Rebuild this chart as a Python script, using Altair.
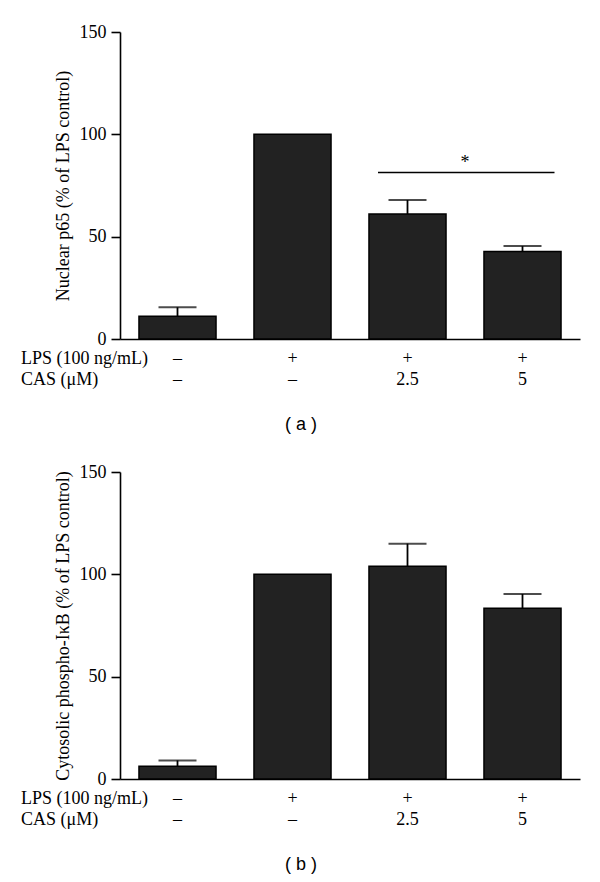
import altair as alt
import pandas as pd

cats = ["g1", "g2", "g3", "g4"]
lps = ["–", "+", "+", "+"]
cas = ["–", "–", "2.5", "5"]
a_mean = [11.1, 100, 61.1, 42.8]
a_err = [4.4, 0, 6.8, 2.6]
b_mean = [6.2, 100, 103.9, 83.4]
b_err = [2.9, 0, 11.1, 7.0]
sig_value = 81.4
yticks = [0, 50, 100, 150]
row_labels = ["LPS (100 ng/mL)", "CAS (μM)"]

W, H = 460, 307
SERIF = "'Liberation Serif', 'Times New Roman', 'DejaVu Serif', serif"
SANS = "'Liberation Sans', Arial, sans-serif"


def panel(means, errs, ytitle, letter, sig=False):
    df = pd.DataFrame({"cat": cats, "mean": means,
                       "top": [m + e for m, e in zip(means, errs)],
                       "lps": lps, "cas": cas})
    df_err = df[[e > 0 for e in errs]]
    x = alt.X("cat:N", sort=cats,
              scale=alt.Scale(paddingInner=0.33, paddingOuter=0.165),
              axis=alt.Axis(title=None, labels=False, ticks=False, domain=True,
                            domainColor="black", domainWidth=1.6))
    y = alt.Y("mean:Q", scale=alt.Scale(domain=[0, 150], nice=False),
              axis=alt.Axis(title=ytitle, values=yticks, grid=False,
                            domainColor="black", domainWidth=1.6,
                            tickColor="black", tickWidth=1.6, tickSize=9,
                            labelFont=SERIF, labelFontSize=18, labelColor="black",
                            labelPadding=5, titleFont=SERIF, titleFontSize=18,
                            titleFontWeight="normal", titleColor="black",
                            titlePadding=7))
    bars = alt.Chart(df).mark_bar(color="#222222", stroke="black",
                                  strokeWidth=1.5).encode(x=x, y=y)
    stems = alt.Chart(df_err).mark_rule(color="black", strokeWidth=1.8).encode(
        x=alt.X("cat:N", sort=cats), y="mean:Q", y2="top:Q")
    caps = alt.Chart(df_err).mark_tick(color="black", size=38, thickness=2,
                                       orient="horizontal").encode(
        x=alt.X("cat:N", sort=cats), y="top:Q")
    lps_t = alt.Chart(df).mark_text(font=SERIF, fontSize=18, color="black",
                                    baseline="middle").encode(
        x=alt.X("cat:N", sort=cats), y=alt.value(H + 20), text="lps:N")
    cas_t = alt.Chart(df).mark_text(font=SERIF, fontSize=18, color="black",
                                    baseline="middle").encode(
        x=alt.X("cat:N", sort=cats), y=alt.value(H + 41), text="cas:N")
    lab1 = alt.Chart(pd.DataFrame({"t": [row_labels[0]]})).mark_text(
        font=SERIF, fontSize=18, color="black", align="left",
        baseline="middle").encode(x=alt.value(-99), y=alt.value(H + 20), text="t:N")
    lab2 = alt.Chart(pd.DataFrame({"t": [row_labels[1]]})).mark_text(
        font=SERIF, fontSize=18, color="black", align="left",
        baseline="middle").encode(x=alt.value(-99), y=alt.value(H + 41), text="t:N")
    letter_t = alt.Chart(pd.DataFrame({"t": [letter]})).mark_text(
        font=SANS, fontSize=18, color="black",
        baseline="middle").encode(x=alt.value(181), y=alt.value(H + 86), text="t:N")
    layers = [bars, stems, caps, lps_t, cas_t, lab1, lab2, letter_t]
    if sig:
        sdf = pd.DataFrame({"a": [cats[2]], "b": [cats[3]], "v": [sig_value],
                            "s": ["*"]})
        line = alt.Chart(sdf).mark_rule(color="black", strokeWidth=1.5,
                                        xOffset=-29.5, x2Offset=32).encode(
            x=alt.X("a:N", sort=cats), x2="b:N", y="v:Q")
        star = alt.Chart(sdf).mark_text(font=SERIF, fontSize=18, color="black",
                                        baseline="middle", dx=57.5, dy=-9).encode(
            x=alt.X("a:N", sort=cats), y="v:Q", text="s:N")
        layers += [line, star]
    return alt.layer(*layers).properties(width=W, height=H)


top = panel(a_mean, a_err, "Nuclear p65 (% of LPS control)", "( a )", sig=True)
bot = panel(b_mean, b_err, "Cytosolic phospho-IκB (% of LPS control)", "( b )")

chart = alt.vconcat(top, bot, spacing=133, bounds="flush").properties(
    padding={"left": 13, "top": 15, "right": 5, "bottom": 5},
    background="white",
).configure_view(stroke=None, strokeWidth=0)

chart.save("out.html", embed_options={"renderer": "svg", "actions": False})
